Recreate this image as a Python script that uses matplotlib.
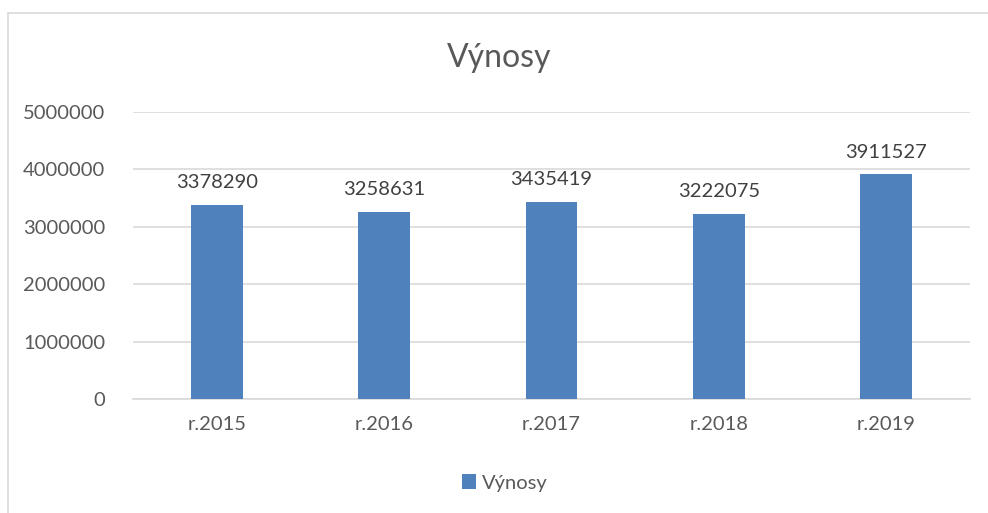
import matplotlib
matplotlib.use('Agg')
import matplotlib.pyplot as plt
from matplotlib.patches import Rectangle

categories = ["r.2015", "r.2016", "r.2017", "r.2018", "r.2019"]
vynosy = [3378290, 3258631, 3435419, 3222075, 3911527]
yticks = [0, 1000000, 2000000, 3000000, 4000000, 5000000]

plt.rcParams['font.family'] = ['Lato', 'DejaVu Sans']
text_col = '#595959'
bar_col = '#4F81BD'
grid_col = '#D9D9D9'

fig = plt.figure(figsize=(9.88, 5.13), dpi=100)
# chart border (only left/top visible in the reference)
fig.add_artist(Rectangle((8 / 988, -0.05), 1.1, (513 - 13) / 513 + 0.05,
                         transform=fig.transFigure, fill=False,
                         edgecolor=grid_col, linewidth=1.2))

ax = fig.add_axes([133 / 988, 114 / 513, (970 - 133) / 988, 287 / 513])
x = range(len(categories))
bars = ax.bar(x, vynosy, width=0.31, color=bar_col, label="Výnosy", zorder=3)
for xi, v in zip(x, vynosy):
    ax.text(xi, v + 240000, str(v), ha='center', va='bottom', fontsize=14.5, color='#404040')

ax.set_ylim(0, 5000000)
ax.set_xlim(-0.5, len(categories) - 0.5)
ax.set_yticks(yticks)
ax.set_yticklabels([str(t) for t in yticks])
ax.set_xticks(list(x))
ax.set_xticklabels(categories)
ax.tick_params(axis='both', length=0, labelsize=14.5, colors=text_col)
ax.tick_params(axis='y', pad=20)
ax.tick_params(axis='x', pad=12)
ax.grid(axis='y', color=grid_col, linewidth=1.2, zorder=0)
for s in ['top', 'right', 'left']:
    ax.spines[s].set_visible(False)
ax.spines['bottom'].set_color(grid_col)
ax.spines['bottom'].set_linewidth(1.2)

fig.text(499 / 988, 1 - 58 / 513, "Výnosy", ha='center', va='center', fontsize=23, color=text_col)
fig.legend(handles=[bars], labels=["Výnosy"], loc='center', bbox_to_anchor=(505 / 988, 1 - 483 / 513),
           frameon=False, fontsize=14.5, labelcolor=text_col, handlelength=0.7, handleheight=0.7,
           handletextpad=0.3)

fig.savefig("out.png", dpi=100)
